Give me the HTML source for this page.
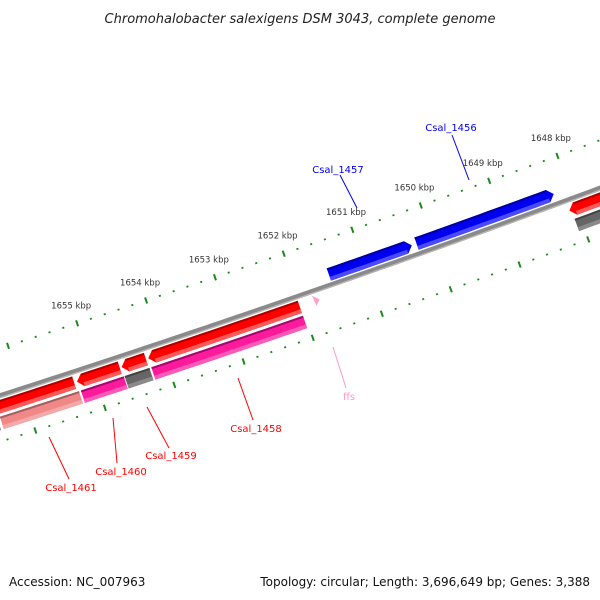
<!DOCTYPE html>
<html><head><meta charset="utf-8"><style>
body{margin:0;background:#fff}
svg{display:block;font-family:"DejaVu Sans","Liberation Sans",sans-serif}
</style></head><body>
<svg id="map" width="600" height="600" viewBox="0 0 600 600">
<rect width="600" height="600" fill="#fff"/>
<text x="300" y="23" text-anchor="middle" font-size="13" font-style="italic" fill="#222">Chromohalobacter salexigens DSM 3043, complete genome</text>
<g id="ticks"></g>
<g id="backbone"></g>
<g id="genes"></g>
<g id="labels">
<line x1="452" y1="135" x2="469" y2="180" stroke="#0000ee" stroke-width="1"/>
<text x="451" y="131" text-anchor="middle" font-size="10" fill="#0000ee">Csal_1456</text>
<line x1="340" y1="175" x2="357" y2="208" stroke="#0000ee" stroke-width="1"/>
<text x="338" y="173" text-anchor="middle" font-size="10" fill="#0000ee">Csal_1457</text>
<line x1="238" y1="378" x2="253" y2="420" stroke="#ff0000" stroke-width="1"/>
<text x="256" y="432" text-anchor="middle" font-size="10" fill="#ff0000">Csal_1458</text>
<line x1="147" y1="407" x2="169" y2="448" stroke="#ff0000" stroke-width="1"/>
<text x="171" y="459" text-anchor="middle" font-size="10" fill="#ff0000">Csal_1459</text>
<line x1="113" y1="418" x2="117" y2="463" stroke="#ff0000" stroke-width="1"/>
<text x="121" y="475" text-anchor="middle" font-size="10" fill="#ff0000">Csal_1460</text>
<line x1="49" y1="437" x2="69" y2="479" stroke="#ff0000" stroke-width="1"/>
<text x="71" y="491" text-anchor="middle" font-size="10" fill="#ff0000">Csal_1461</text>
<line x1="333" y1="347" x2="346" y2="388" stroke="#ff99cc" stroke-width="1"/>
<text x="349" y="400" text-anchor="middle" font-size="10" fill="#ff99cc">ffs</text>
</g>
<text x="9" y="586" font-size="12" fill="#111">Accession: NC_007963</text>
<text x="590" y="586" text-anchor="end" font-size="12" fill="#111">Topology: circular; Length: 3,696,649 bp; Genes: 3,388</text>
</svg>
<script>
// feature data (bp coordinates)
const geneIds    = ["Csal_1457","Csal_1456","red-right","Csal_1458","Csal_1459","Csal_1460","Csal_1461","ffs","cog-right","cog-1458","cog-1459","cog-1460","cog-1461","cog-left"];
const geneStarts = [1651508,1650232,1648106,1654223,1654608,1655252,1656405,1651823,1648078,1654223,1654608,1655238,1656405,1657736];
const geneEnds   = [1650300,1648229,1646213,1652029,1654257,1654635,1655293,1651741,1646213,1652029,1654250,1654621,1655266,1656446];
const geneTrack  = ["top","top","mid","mid","mid","mid","mid","mid","low","low","low","low","low","low"];
const geneArrow  = ["R","R","L","L","L","L","N","N","N","N","N","N","N","N"];
const geneColor  = ["blue","blue","red","red","red","red","red","pink","gray","magenta","gray","magenta","salmon","gray"];
const tickStart = 1646000, tickEnd = 1658000, tickStep = 200, tickMajor = 1000;
const labelMin = 1648000, labelMax = 1655000;

const NS="http://www.w3.org/2000/svg";
const CX=-4345, CY=-13139, R0=14215, TH0=Math.atan2(13434,4645);
const PXKB=0.0729, S_REF=71, BP_REF=1651000;
function sOf(bp){return S_REF+(BP_REF-bp)*PXKB;}
function ptS(s,d){const th=TH0-s/R0, r=R0+d;return [CX+r*Math.cos(th),CY+r*Math.sin(th)];}
function pos(bp,d){return ptS(sOf(bp),d);}
const TR={top:[-17,-4],mid:[4,17],low:[20,33]};
const PAL={blue:["#0000f0","#0000a0","#4a4aff"],red:["#ff0000","#b00000","#ff5a5a"],
 pink:["#ff9fd0","#d070a0","#ffc0e0"],gray:["#666","#444","#8a8a8a"],
 magenta:["#ff1a9c","#a00a70","#ff5ab8"],salmon:["#f08888","#a06060","#f4a8a8"]};
function edge(s1,s2,d){const pts=[];const n=Math.max(2,Math.ceil(Math.abs(s2-s1)/8));
 for(let i=0;i<=n;i++){pts.push(ptS(s1+(s2-s1)*i/n,d));}return pts;}
function band(sA,sB,d1,d2,arrow){const H=6;let a=sA,b=sB;let pts=[];
 const dm=(d1+d2)/2;
 if(arrow==="R"){b=sB-H;pts=edge(a,b,d1).concat([ptS(sB,dm)]).concat(edge(b,a,d2));}
 else if(arrow==="L"){a=sA+H;pts=[ptS(sA,dm)].concat(edge(a,b,d1)).concat(edge(b,a,d2));}
 else pts=edge(a,b,d1).concat(edge(b,a,d2));
 return "M"+pts.map(p=>p[0].toFixed(2)+","+p[1].toFixed(2)).join("L")+"Z";}
const ticksG=document.getElementById("ticks"),bbG=document.getElementById("backbone"),gG=document.getElementById("genes");
let bb=document.createElementNS(NS,"path");
bb.setAttribute("d","M"+edge(-420,420,0).map(p=>p.join(",")).join("L"));
bb.setAttribute("stroke","#8a8a8a");bb.setAttribute("stroke-width","5");bb.setAttribute("fill","none");


bbG.appendChild(bb);
let bh=document.createElementNS(NS,"path");
bh.setAttribute("d","M"+edge(-420,420,1.8).map(p=>p.join(",")).join("L"));
bh.setAttribute("stroke","#b8b8b8");bh.setAttribute("stroke-width","1.2");bh.setAttribute("fill","none");


bbG.appendChild(bh);
for(let bp=tickStart;bp<=tickEnd;bp+=tickStep){
 const major=bp%tickMajor===0;
 [-45,44].forEach(dc=>{
  const h=major?3.2:0.9;const p1=pos(bp,dc-h),p2=pos(bp,dc+h);
  const ln=document.createElementNS(NS,"line");
  ln.setAttribute("x1",p1[0]);ln.setAttribute("y1",p1[1]);ln.setAttribute("x2",p2[0]);ln.setAttribute("y2",p2[1]);
  ln.setAttribute("stroke","#1a8a1a");ln.setAttribute("stroke-width","2");
  
  
  ticksG.appendChild(ln);
 });
 if(major && bp>=labelMin && bp<=labelMax){const p=pos(bp,-64);const t=document.createElementNS(NS,"text");
  t.setAttribute("x",p[0]);t.setAttribute("y",p[1]+3);t.setAttribute("text-anchor","middle");
  t.setAttribute("font-size","8.5");t.setAttribute("fill","#333");t.textContent=(bp/1000)+" kbp";
  
  
  ticksG.appendChild(t);}
}
function geneId_isTri(i){return geneColor[i]==="pink";}
geneIds.forEach((id,i)=>{
 const sA=sOf(geneStarts[i]),sB=sOf(geneEnds[i]);const [d1,d2]=TR[geneTrack[i]];const c=PAL[geneColor[i]];
 const g=document.createElementNS(NS,"g");
 
 
 let s1=sA,s2=sB;
 if(geneId_isTri(i)){
  const p=document.createElementNS(NS,"path");
  const a=ptS(sA,d1),b=ptS(sB,d1+6),cc=ptS(sA+1,d2-2);
  p.setAttribute("d","M"+a+"L"+b+"L"+cc+"Z");p.setAttribute("fill",c[0]);g.appendChild(p);gG.appendChild(g);return;}
 const main=document.createElementNS(NS,"path");main.setAttribute("d",band(sA,sB,d1,d2,geneArrow[i]));main.setAttribute("fill",c[0]);g.appendChild(main);
 const H=6;if(geneArrow[i]==="R")s2=sB-H;if(geneArrow[i]==="L")s1=sA+H;
 const top=document.createElementNS(NS,"path");top.setAttribute("d",band(s1,s2,d1,d1+2,"N"));top.setAttribute("fill",c[1]);g.appendChild(top);
 const low=document.createElementNS(NS,"path");low.setAttribute("d",band(s1,s2,d2-4,d2,"N"));low.setAttribute("fill",c[2]);g.appendChild(low);
 gG.appendChild(g);
});
</script>
</body></html>
